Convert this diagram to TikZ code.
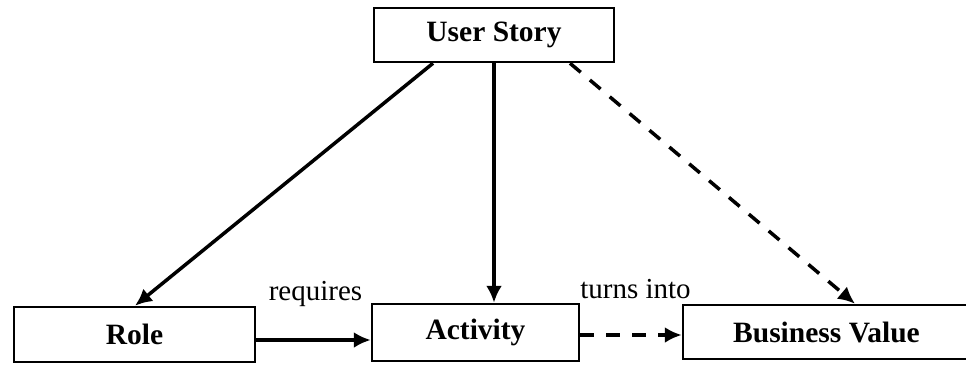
\documentclass[tikz,border=0pt]{standalone}
\usepackage{fontspec}
\setmainfont{Liberation Serif}
\usetikzlibrary{arrows.meta}
\begin{document}
\begin{tikzpicture}[x=1pt,y=-1pt,
  box/.style={draw, line width=2.5pt, inner sep=0pt, font=\fontsize{29.5}{34}\selectfont\bfseries},
  arr/.style={line width=3.5pt, -{Latex[length=17pt,width=16pt]}},
  dsh/.style={dash pattern=on 14pt off 12pt},
  lbl/.style={font=\fontsize{29}{34}\selectfont, anchor=base, inner sep=0pt}]
\useasboundingbox (0,0) rectangle (966,364);
\node[box, minimum width=240pt, minimum height=54pt] (us) at (494,35) {User Story};
\node[box, minimum width=241pt, minimum height=55pt] (role) at (134.5,334.5) {Role};
\node[box, minimum width=207pt, minimum height=57pt] (act) at (475.5,332.5) {Activity};
\node[box, minimum width=287pt, minimum height=54pt] (bv) at (826.5,332) {Business Value};
\draw[arr] ([xshift=-61pt]us.south) -- ([xshift=0.5pt]role.north);
\draw[arr] (us.south) -- (act.north -| us.south);
\draw[arr, dsh] ([xshift=76pt]us.south) -- ([xshift=28.5pt]bv.north);
\draw[arr] (role.east |- 0,340) -- (act.west |- 0,340);
\draw[arr, dsh] (act.east |- 0,335) -- (bv.west |- 0,335);
\node[lbl] (req) at (315.5,300) {requires};
\node[lbl] (ti) at (635.5,298) {turns into};
\end{tikzpicture}
\end{document}
